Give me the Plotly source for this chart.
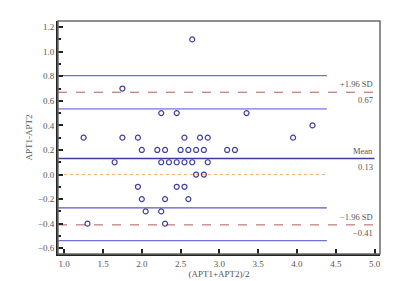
import plotly.graph_objects as go

# Data
mean_x = [2.65, 1.75, 2.25, 2.45, 3.35, 4.2,
          1.25, 1.75, 1.95, 2.55, 2.75, 2.85, 3.95,
          2.0, 2.2, 2.3, 2.5, 2.6, 2.7, 2.8, 3.1, 3.2,
          1.65, 2.25, 2.35, 2.45, 2.55, 2.65, 2.85,
          2.7, 2.8,
          1.95, 2.45, 2.55,
          2.0, 2.3, 2.6,
          2.05, 2.25,
          1.3, 2.3]
diff_y = [1.1, 0.7, 0.5, 0.5, 0.5, 0.4,
          0.3, 0.3, 0.3, 0.3, 0.3, 0.3, 0.3,
          0.2, 0.2, 0.2, 0.2, 0.2, 0.2, 0.2, 0.2, 0.2,
          0.1, 0.1, 0.1, 0.1, 0.1, 0.1, 0.1,
          0.0, 0.0,
          -0.1, -0.1, -0.1,
          -0.2, -0.2, -0.2,
          -0.3, -0.3,
          -0.4, -0.4]

mean_diff = 0.13
upper_loa = 0.67
lower_loa = -0.41
upper_ci = [0.805, 0.535]
lower_ci = [-0.272, -0.538]

x_range = [0.92, 5.07]
y_range = [-0.647, 1.25]
ci_end = 4.385
loa_end = 5.0

x_ticks = [1.0, 1.5, 2.0, 2.5, 3.0, 3.5, 4.0, 4.5, 5.0]
y_ticks = [-0.6, -0.4, -0.2, 0.0, 0.2, 0.4, 0.6, 0.8, 1.0, 1.2]

FONT = "Liberation Serif"

def fmt(v):
    s = f"{abs(v):.1f}"
    return ("\u2212" + s) if v < 0 else s

fig = go.Figure()

# reference lines
def hline(y, x1, color, width, dash):
    fig.add_trace(go.Scatter(x=[x_range[0], x1], y=[y, y], mode="lines",
                             line=dict(color=color, width=width, dash=dash),
                             hoverinfo="skip", showlegend=False))

hline(upper_ci[0], ci_end, "#6f6fd6", 1.2, "solid")
hline(upper_ci[1], ci_end, "#9c9ce6", 1.8, "solid")
hline(lower_ci[0], ci_end, "#5a5ac8", 1.2, "solid")
hline(lower_ci[1], ci_end, "#6f6fd6", 1.2, "solid")
hline(0.0, ci_end, "#f6b27a", 1.0, "dot")
hline(upper_loa, loa_end, "#b35a5a", 1.0, "dash")
hline(lower_loa, loa_end, "#b35a5a", 1.0, "dash")
hline(mean_diff, loa_end, "#3c3c9c", 1.4, "solid")

fig.add_trace(go.Scatter(x=mean_x, y=diff_y, mode="markers",
                         marker=dict(symbol="circle-open", size=5,
                                     color="#3f3f9e", line=dict(width=1.2)),
                         showlegend=False))

# frame
fig.add_shape(type="rect", xref="paper", yref="paper", x0=0, x1=1, y0=0, y1=1,
              line=dict(color="#6a6a6a", width=1.5), layer="above")

ann_font = dict(family=FONT, size=8.5, color="#555555")
for y, top, bot in [(upper_loa, "+1.96 SD", f"{upper_loa:.2f}"),
                    (mean_diff, "Mean", f"{mean_diff:.2f}"),
                    (lower_loa, "\u22121.96 SD", "\u2212" + f"{abs(lower_loa):.2f}")]:
    fig.add_annotation(x=loa_end, y=y, text=top, showarrow=False, xanchor="right",
                       yanchor="bottom", yshift=1, font=ann_font)
    fig.add_annotation(x=loa_end, y=y, text=bot, showarrow=False, xanchor="right",
                       yanchor="top", yshift=-1, font=ann_font)

fig.update_layout(
    width=400, height=281,
    margin=dict(l=50, r=28, t=13, b=26),
    paper_bgcolor="white", plot_bgcolor="white",
    font=dict(family=FONT, size=9, color="#555555"),
    xaxis=dict(range=x_range, tickvals=x_ticks, ticktext=[fmt(v) for v in x_ticks],
               showgrid=False, zeroline=False, showline=True, linecolor="#222222",
               linewidth=2, ticks="inside", ticklen=5, tickwidth=1.5, tickcolor="#222222",
               title=dict(text="(APT1+APT2)/2", font=dict(size=9, family=FONT), standoff=2)),
    yaxis=dict(range=y_range, tickvals=y_ticks, ticktext=[fmt(v) for v in y_ticks],
               showgrid=False, zeroline=False, showline=True, linecolor="#222222",
               linewidth=2, ticks="inside", ticklen=5, tickwidth=1.5, tickcolor="#222222",
               minor=dict(dtick=0.1, ticks="inside", ticklen=3, tickcolor="#222222"),
               title=dict(text="APT1-APT2", font=dict(size=9, family=FONT), standoff=4)),
)

fig.write_html("out.html")
